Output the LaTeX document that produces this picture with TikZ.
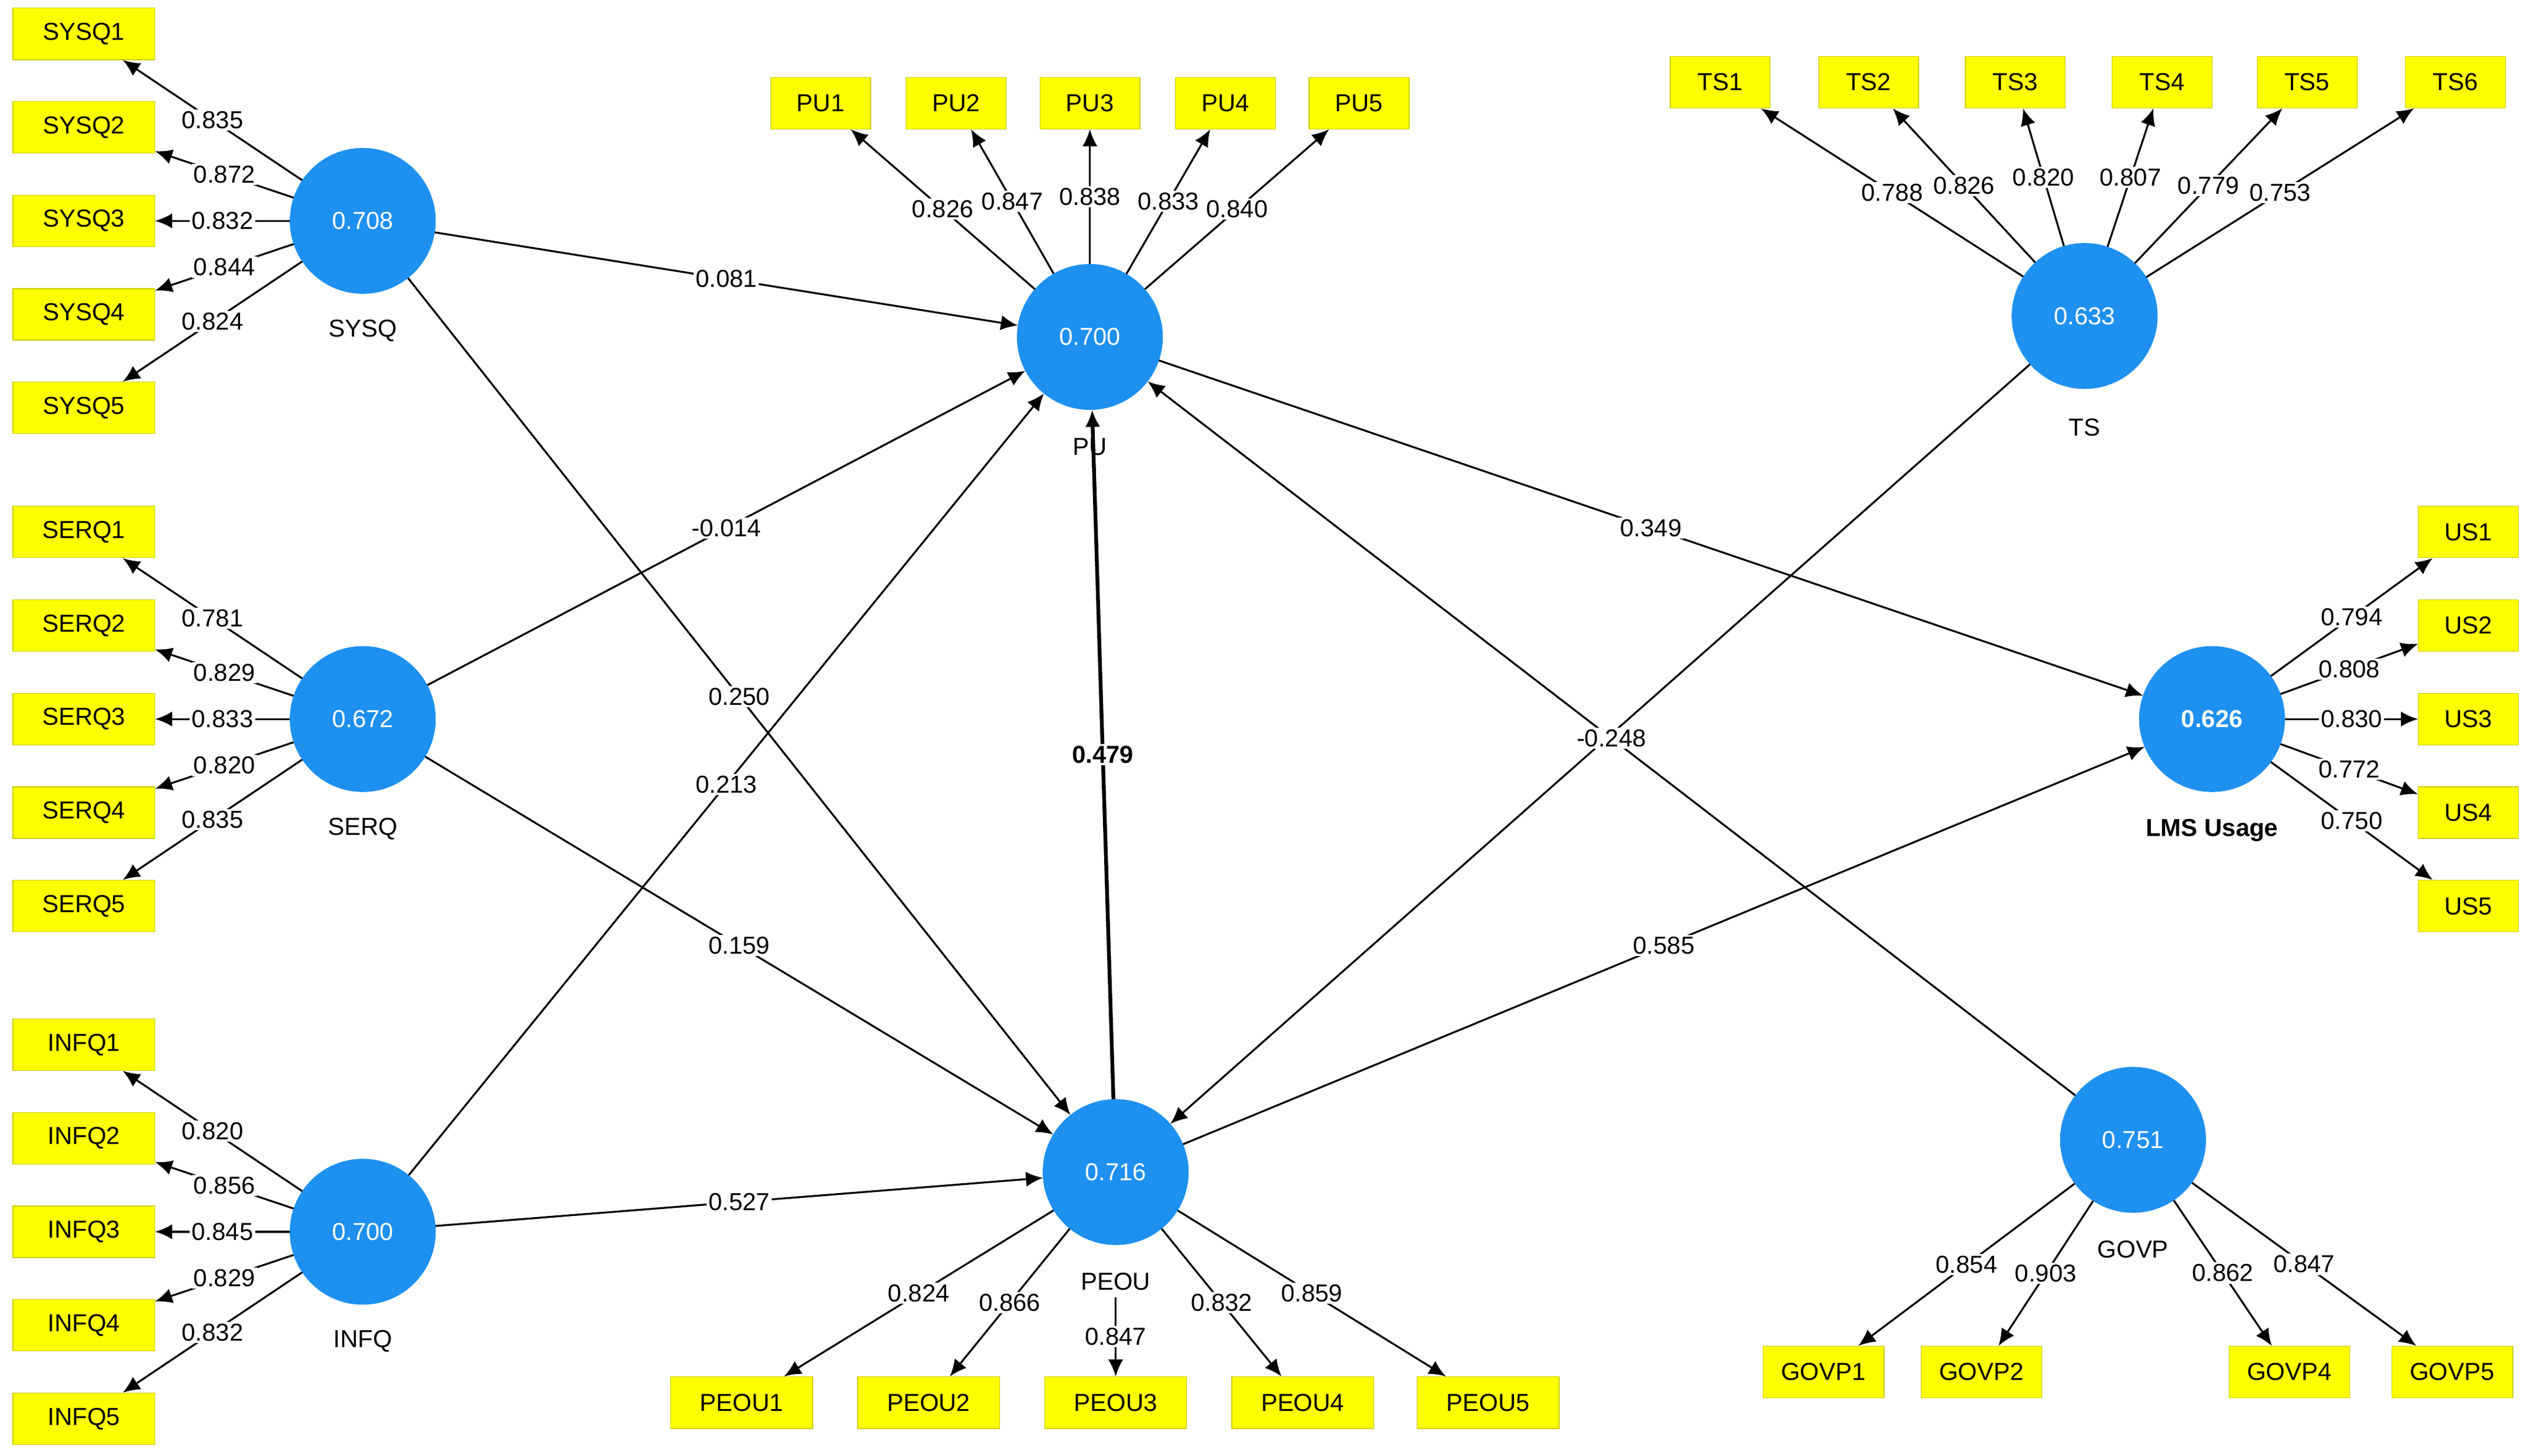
\documentclass[tikz,border=0pt]{standalone}
\usepackage{fontspec}
\setmainfont{Liberation Sans}
\usetikzlibrary{arrows.meta}
\definecolor{lv}{HTML}{1E90F0}
\definecolor{yb}{HTML}{FFFF00}
\begin{document}
\begin{tikzpicture}[x=0.03cm,y=-0.03cm,font=\fontsize{13}{15}\selectfont,
 lv/.style={circle,fill=lv,draw=lv,minimum size=2.7cm,inner sep=0pt,text=white},
 ind/.style={fill=yb,draw=yb!80!black,line width=0.4pt,minimum width=2.64cm,minimum height=0.96cm,inner sep=1pt},
 indn/.style={ind,minimum width=1.86cm},
 indg/.style={ind,minimum width=2.25cm},
 nm/.style={},
 ar/.style={draw,line width=1pt,-{Latex[length=9pt,width=8pt]}},
 lb/.style={fill=white,inner sep=1pt,midway}]
\useasboundingbox (0,0) rectangle (1568,903);
% latent
\node[lv] (SYSQ) at (225,137) {0.708};
\node[lv] (SERQ) at (225,446) {0.672};
\node[lv] (INFQ) at (225,764) {0.700};
\node[lv] (PU) at (676,209) {0.700};
\node[lv] (PEOU) at (692,727) {0.716};
\node[lv] (TS) at (1293,196) {0.633};
\node[lv] (LMS) at (1372,446) {\textbf{0.626}};
\node[lv] (GOVP) at (1323,707) {0.751};
\node (nSYSQ) at (225,205) {SYSQ};
\node (nSERQ) at (225,514) {SERQ};
\node (nINFQ) at (225,832) {INFQ};
\node (nPU) at (676,277) {PU};
\node (nPEOU) at (692,795) {PEOU};
\node (nTS) at (1293,265) {TS};
\node (nLMS) at (1372,515) {\textbf{LMS Usage}};
\node (nGOVP) at (1323,775) {GOVP};
% indicators left
\foreach \n/\y/\v in {1/21/0.835,2/79/0.872,3/137/0.832,4/195/0.844,5/253/0.824}{
 \node[ind] (SYSQ\n) at (52,\y) {SYSQ\n};
 \path[ar] (SYSQ) -- (SYSQ\n) node[lb] {\v};}
\foreach \n/\y/\v in {1/330/0.781,2/388/0.829,3/446/0.833,4/504/0.820,5/562/0.835}{
 \node[ind] (SERQ\n) at (52,\y) {SERQ\n};
 \path[ar] (SERQ) -- (SERQ\n) node[lb] {\v};}
\foreach \n/\y/\v in {1/648/0.820,2/706/0.856,3/764/0.845,4/822/0.829,5/880/0.832}{
 \node[ind] (INFQ\n) at (52,\y) {INFQ\n};
 \path[ar] (INFQ) -- (INFQ\n) node[lb] {\v};}
\foreach \n/\x/\v in {1/509/0.826,2/593/0.847,3/676/0.838,4/760/0.833,5/843/0.840}{
 \node[indn] (PU\n) at (\x,64) {PU\n};
 \path[ar] (PU) -- (PU\n) node[lb] {\v};}
\foreach \n/\x/\v in {1/1067/0.788,2/1159/0.826,3/1250/0.820,4/1341/0.807,5/1431/0.779,6/1523/0.753}{
 \node[indn] (TS\n) at (\x,51) {TS\n};
 \path[ar] (TS) -- (TS\n) node[lb] {\v};}
\foreach \n/\y/\v in {1/330/0.794,2/388/0.808,3/446/0.830,4/504/0.772,5/562/0.750}{
 \node[indn] (US\n) at (1531,\y) {US\n};
 \path[ar] (LMS) -- (US\n) node[lb] {\v};}
\foreach \n/\x/\v in {1/460/0.824,2/576/0.866,4/808/0.832,5/923/0.859}{
 \node[ind] (PEOU\n) at (\x,870) {PEOU\n};
 \path[ar] (PEOU) -- (PEOU\n) node[lb] {\v};}
\node[ind] (PEOU3) at (692,870) {PEOU3};
\path[ar] (nPEOU) -- (PEOU3) node[lb] {0.847};
\foreach \n/\x/\v in {1/1131/0.854,2/1229/0.903,4/1420/0.862,5/1521/0.847}{
 \node[indg] (GOVP\n) at (\x,851) {GOVP\n};
 \path[ar] (GOVP) -- (GOVP\n) node[lb] {\v};}
% structural paths
\path[ar] (SYSQ) -- (PU) node[lb] {0.081};
\path[ar] (SYSQ) -- (PEOU) node[lb] {0.250};
\path[ar] (SERQ) -- (PU) node[lb] {-0.014};
\path[ar] (SERQ) -- (PEOU) node[lb] {0.159};
\path[ar] (INFQ) -- (PU) node[lb] {0.213};
\path[ar] (INFQ) -- (PEOU) node[lb] {0.527};
\path[ar,line width=2pt] (PEOU) -- (PU) node[lb] {\textbf{0.479}};
\path[ar] (PU) -- (LMS) node[lb] {0.349};
\path[ar] (PEOU) -- (LMS) node[lb] {0.585};
\path[ar] (TS) -- (PEOU);
\path[ar] (GOVP) -- (PU) node[lb] {-0.248};
\end{tikzpicture}
\end{document}
